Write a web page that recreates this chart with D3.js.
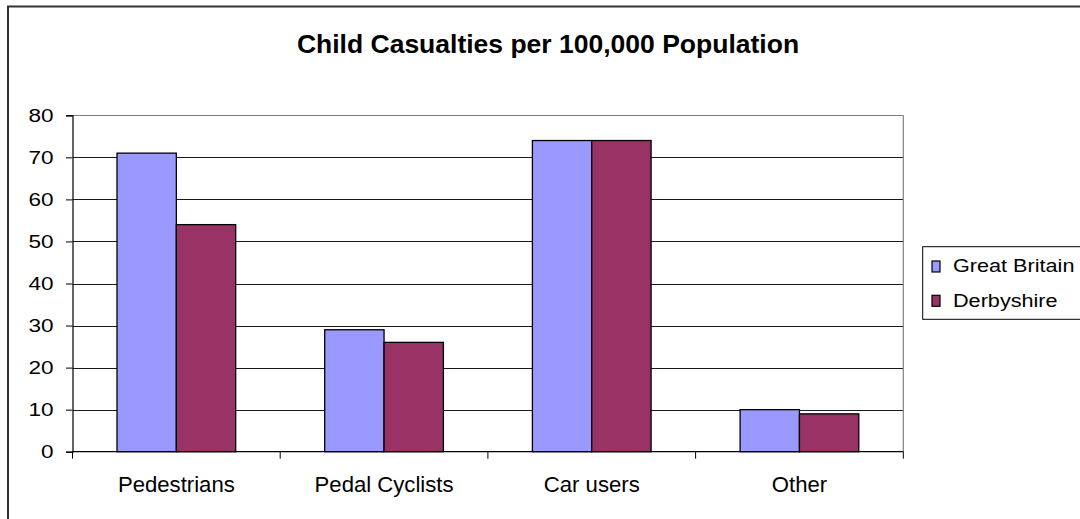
<!DOCTYPE html>
<html>
<head>
<meta charset="utf-8">
<script src="https://cdn.jsdelivr.net/npm/d3@7"></script>
<style>
  html, body { margin: 0; padding: 0; background: #fff; }
  svg { display: block; font-family: "Liberation Sans", Arial, sans-serif; }
</style>
</head>
<body>
<svg id="chart" width="1080" height="519"></svg>
<script>
// Chart data
const categories = ["Pedestrians", "Pedal Cyclists", "Car users", "Other"];
const seriesNames = ["Great Britain", "Derbyshire"];
const greatBritain = [71, 29, 74, 10];
const derbyshire = [54, 26, 74, 9];
const yTicks = [0, 10, 20, 30, 40, 50, 60, 70, 80];
const seriesColors = ["#9999FF", "#993366"];
const titleText = "Child Casualties per 100,000 Population";

const seriesValues = [greatBritain, derbyshire];

const svg = d3.select("#chart");

// Plot area
const plot = { left: 72.5, right: 903.3, top: 115.3, bottom: 451.7 };

const x0 = d3.scaleBand().domain(categories).range([plot.left, plot.right]).paddingInner(0).paddingOuter(0);
const x1 = d3.scaleBand().domain(seriesNames).range([0, x0.bandwidth()]).paddingInner(0).paddingOuter(0.75);
const y = d3.scaleLinear().domain([0, 80]).range([plot.bottom, plot.top]);

// Outer chart frame
svg.append("rect")
  .attr("x", 8).attr("y", 6.5)
  .attr("width", 1100).attr("height", 540)
  .attr("fill", "none").attr("stroke", "#333").attr("stroke-width", 2);

// Title
svg.append("text")
  .attr("transform", "translate(548,53) scale(1.0,1)")
  .attr("text-anchor", "middle")
  .attr("font-weight", "bold")
  .attr("font-size", 26.5)
  .attr("fill", "#000")
  .text(titleText);

// Horizontal gridlines
svg.append("g").selectAll("line")
  .data(yTicks.filter(d => d > 0))
  .join("line")
  .attr("x1", plot.left).attr("x2", plot.right)
  .attr("y1", d => Math.round(y(d)) + 0.5).attr("y2", d => Math.round(y(d)) + 0.5)
  .attr("stroke", d => d === 80 ? "#808080" : "#1a1a1a")
  .attr("stroke-width", 1);

// Right border of the plot area
svg.append("line")
  .attr("x1", plot.right).attr("x2", plot.right)
  .attr("y1", plot.top).attr("y2", plot.bottom)
  .attr("stroke", "#808080").attr("stroke-width", 1.2);

// Bars
const groups = svg.append("g").selectAll("g")
  .data(categories)
  .join("g")
  .attr("transform", d => `translate(${x0(d)},0)`);

groups.selectAll("rect")
  .data((c, i) => seriesNames.map((s, j) => ({ s, v: seriesValues[j][i], j })))
  .join("rect")
  .attr("x", d => x1(d.s))
  .attr("y", d => y(d.v))
  .attr("width", x1.bandwidth())
  .attr("height", d => y(0) - y(d.v))
  .attr("fill", d => seriesColors[d.j])
  .attr("stroke", "#000")
  .attr("stroke-width", 1.3);

// Y axis
const yAxis = d3.axisLeft(y).tickValues(yTicks).tickSize(6.5).tickFormat("");
const yg = svg.append("g").attr("transform", `translate(${plot.left},0)`).call(yAxis);
yg.select(".domain").attr("stroke", "#000").attr("stroke-width", 1.2);
yg.selectAll(".tick line").attr("stroke", "#000");

// Y tick labels
svg.append("g").selectAll("text")
  .data(yTicks)
  .join("text")
  .attr("transform", d => `translate(53.5,${y(d) + 6.6}) scale(1.22,1)`)
  .attr("text-anchor", "end")
  .attr("font-size", 18.5)
  .attr("fill", "#000")
  .text(d => d);

// X axis baseline and category boundary ticks
svg.append("line")
  .attr("x1", plot.left).attr("x2", plot.right)
  .attr("y1", plot.bottom).attr("y2", plot.bottom)
  .attr("stroke", "#000").attr("stroke-width", 1.3);

const boundaries = categories.map(c => x0(c)).concat([x0.range()[1]]);
svg.append("g").selectAll("line")
  .data(boundaries)
  .join("line")
  .attr("x1", d => d).attr("x2", d => d)
  .attr("y1", plot.bottom).attr("y2", plot.bottom + 7)
  .attr("stroke", "#000").attr("stroke-width", 1);

// Category labels
svg.append("g").selectAll("text")
  .data(categories)
  .join("text")
  .attr("transform", d => `translate(${x0(d) + x0.bandwidth() / 2},492.3) scale(1.03,1)`)
  .attr("text-anchor", "middle")
  .attr("font-size", 21.5)
  .attr("fill", "#000")
  .text(d => d);

// Legend
const legend = svg.append("g");
legend.append("rect")
  .attr("x", 922.7).attr("y", 246.7)
  .attr("width", 200).attr("height", 72.6)
  .attr("fill", "#fff").attr("stroke", "#000").attr("stroke-width", 1);

const items = legend.selectAll("g.item")
  .data(seriesNames)
  .join("g")
  .attr("class", "item")
  .attr("transform", (d, i) => `translate(0,${i * 34.3})`);

items.append("rect")
  .attr("x", 932).attr("y", 261)
  .attr("width", 8).attr("height", 11)
  .attr("fill", (d, i) => seriesColors[i])
  .attr("stroke", "#000").attr("stroke-width", 1.2);

items.append("text")
  .attr("transform", "translate(953,272.3) scale(1.17,1)")
  .attr("font-size", 18.5)
  .attr("fill", "#000")
  .text(d => d);
</script>
</body>
</html>
